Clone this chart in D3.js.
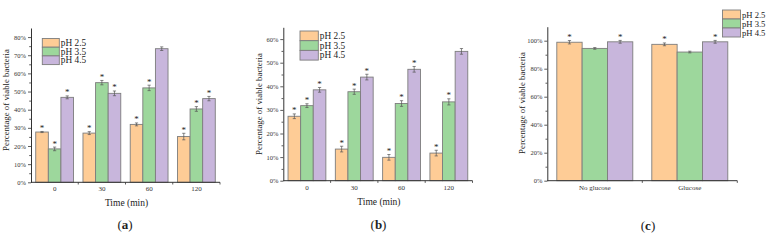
<!DOCTYPE html>
<html>
<head>
<meta charset="utf-8">
<script src="https://cdn.jsdelivr.net/npm/d3@7"></script>
<style>
  html, body { margin: 0; padding: 0; background: #fff; }
  svg { display: block; font-family: "Liberation Serif", "Times New Roman", serif; }
</style>
</head>
<body>
<div id="chart"></div>
<script>
// data
const seriesNames = ["pH 2.5", "pH 3.5", "pH 4.5"];

const timeCats = ["0", "30", "60", "120"];
const aValues = [[27.7, 27.1, 31.9, 25.2], [18.4, 54.9, 52.0, 40.4], [46.8, 49.0, 73.6, 46.1]];
const aErrors = [[0.3, 0.8, 0.8, 1.8], [1.0, 1.2, 1.5, 1.3], [0.8, 1.3, 1.0, 1.2]];
const aStars = [[1, 1, 1, 1], [1, 1, 1, 1], [1, 1, 0, 1]];
const aTicks = [0, 10, 20, 30, 40, 50, 60, 70, 80];

const bValues = [[27.3, 13.4, 9.9, 11.7], [31.8, 37.7, 32.7, 33.4], [38.5, 43.9, 47.2, 54.8]];
const bErrors = [[1.0, 1.2, 1.2, 1.2], [0.8, 1.1, 1.2, 1.3], [1.0, 1.2, 1.2, 1.2]];
const bStars = [[1, 1, 1, 1], [1, 1, 1, 1], [1, 1, 1, 0]];
const bTicks = [0, 10, 20, 30, 40, 50, 60];

const glucoseCats = ["No glucose", "Glucose"];
const cValues = [[98.9, 97.4], [94.5, 91.9], [99.2, 99.2]];
const cErrors = [[1.2, 1.0], [0.6, 0.6], [1.0, 1.0]];
const cStars = [[1, 1], [0, 0], [1, 1]];
const cTicks = [0, 20, 40, 60, 80, 100];

const colors = ["#FECC96", "#9DD79C", "#C8B6DC"];

const svg = d3.select("#chart").append("svg")
  .attr("width", 767).attr("height", 240);

function drawPanel(p) {
  const g = svg.append("g");
  const x0 = d3.scaleBand().domain(p.cats).range([p.left, p.right])
    .paddingInner(0.2).paddingOuter(0.1);
  const x1 = d3.scaleBand().domain(d3.range(seriesNames.length)).range([0, x0.bandwidth()]);
  const y = d3.scaleLinear().domain([0, p.ymax]).range([p.bottom, p.top]);

  // minor y ticks
  const minorStep = (p.ticks[1] - p.ticks[0]) / 2;
  g.append("g")
    .attr("transform", `translate(${p.left},0)`)
    .call(d3.axisLeft(y).tickValues(d3.range(minorStep, p.ymax, minorStep * 2)).tickSize(1.8).tickFormat(""))
    .call(a => a.select(".domain").remove())
    .call(a => a.selectAll("line").attr("stroke", "#333").attr("stroke-width", 0.8));

  // major y ticks
  g.append("g")
    .attr("transform", `translate(${p.left},0)`)
    .call(d3.axisLeft(y).tickValues(p.ticks).tickSize(3).tickSizeOuter(0).tickPadding(2).tickFormat(d => d + "%"))
    .call(a => a.select(".domain").attr("stroke", "#333").attr("stroke-width", 1))
    .call(a => a.selectAll("line").attr("stroke", "#333").attr("stroke-width", 0.8))
    .call(a => a.selectAll("text").attr("font-size", 6.5).attr("fill", "#333")
      .attr("font-family", "Liberation Serif, serif"));

  // bars
  seriesNames.forEach((s, si) => {
    g.append("g").selectAll("rect").data(p.cats).join("rect")
      .attr("x", c => x0(c) + x1(si))
      .attr("width", x1.bandwidth())
      .attr("y", (c, ci) => y(p.values[si][ci]))
      .attr("height", (c, ci) => y(0) - y(p.values[si][ci]))
      .attr("fill", colors[si])
      .attr("stroke", "#7d7d7d").attr("stroke-width", 0.9);
  });

  // error bars and stars
  seriesNames.forEach((s, si) => {
    const cx = c => x0(c) + x1(si) + x1.bandwidth() / 2;
    const eg = g.append("g").attr("stroke", "#555").attr("stroke-width", 0.7);
    p.cats.forEach((c, ci) => {
      const v = p.values[si][ci], e = p.errors[si][ci];
      eg.append("line").attr("x1", cx(c)).attr("x2", cx(c)).attr("y1", y(v - e)).attr("y2", y(v + e));
      [v - e, v + e].forEach(t => eg.append("line")
        .attr("x1", cx(c) - 1.6).attr("x2", cx(c) + 1.6).attr("y1", y(t)).attr("y2", y(t)));
      if (p.stars[si][ci]) {
        g.append("text").attr("x", cx(c)).attr("y", y(v + e) - 0.5)
          .attr("text-anchor", "middle").attr("font-size", 9).attr("fill", "#222").text("*");
      }
    });
  });

  // x axis
  g.append("line").attr("x1", p.left).attr("x2", p.right).attr("y1", p.bottom).attr("y2", p.bottom)
    .attr("stroke", "#333").attr("stroke-width", 1);
  d3.range(1, p.cats.length + 1).forEach(i => {
    const bx = p.left + i * x0.step();
    g.append("line").attr("x1", bx).attr("x2", bx).attr("y1", p.bottom).attr("y2", p.bottom + 2.2)
      .attr("stroke", "#333").attr("stroke-width", 0.8);
  });
  g.append("g").selectAll("text").data(p.cats).join("text")
    .attr("x", c => x0(c) + x0.bandwidth() / 2).attr("y", p.bottom + 9)
    .attr("text-anchor", "middle").attr("font-size", 7).attr("fill", "#333").text(c => c);

  if (p.xTitle) {
    g.append("text").attr("x", (p.left + p.right) / 2 + 1).attr("y", p.bottom + 24)
      .attr("text-anchor", "middle").attr("font-size", 9.5).attr("fill", "#222").text(p.xTitle);
  }

  // y title
  g.append("text")
    .attr("transform", `translate(${p.yTitleX},${p.yTitleY}) rotate(-90)`)
    .attr("text-anchor", "middle").attr("font-size", 8.8).attr("fill", "#222")
    .text("Percentage of viable bacteria");

  // legend
  const lg = g.append("g").attr("transform", `translate(${p.legX},${p.legY})`);
  seriesNames.forEach((s, si) => {
    lg.append("rect").attr("x", 0).attr("y", si * p.legH).attr("width", p.legW).attr("height", p.legH)
      .attr("fill", colors[si]).attr("stroke", "#7d7d7d").attr("stroke-width", 0.9);
    lg.append("text").attr("x", p.legW + 1.5).attr("y", si * p.legH + p.legH / 2 + 3.2)
      .attr("font-size", p.legFont).attr("fill", "#222").text(s);
  });

  // panel label
  const pl = g.append("text").attr("x", p.labelX).attr("y", p.labelY)
    .attr("text-anchor", "middle").attr("font-size", 13).attr("fill", "#222");
  pl.append("tspan").text("(");
  pl.append("tspan").attr("font-weight", "bold").text(p.label);
  pl.append("tspan").text(")");
}

drawPanel({
  cats: timeCats, values: aValues, errors: aErrors, stars: aStars, ticks: aTicks, ymax: 85,
  left: 31, right: 220, top: 28, bottom: 182.3, xTitle: "Time (min)",
  yTitleX: 9, yTitleY: 100, legX: 42.3, legY: 38.5, legW: 17, legH: 8.7, legFont: 9.3,
  label: "a", labelX: 125, labelY: 229
});

drawPanel({
  cats: timeCats, values: bValues, errors: bErrors, stars: bStars, ticks: bTicks, ymax: 65,
  left: 283.3, right: 472.5, top: 27.3, bottom: 180.7, xTitle: "Time (min)",
  yTitleX: 262, yTitleY: 104, legX: 300, legY: 31, legW: 18.3, legH: 9.7, legFont: 9.3,
  label: "b", labelX: 378.5, labelY: 229
});

drawPanel({
  cats: glucoseCats, values: cValues, errors: cErrors, stars: cStars, ticks: cTicks, ymax: 110,
  left: 547.3, right: 737.3, top: 26.7, bottom: 180.7, xTitle: null,
  yTitleX: 525, yTitleY: 103, legX: 722.5, legY: 10, legW: 18, legH: 9, legFont: 8.6,
  label: "c", labelX: 648, labelY: 230
});
</script>
</body>
</html>
